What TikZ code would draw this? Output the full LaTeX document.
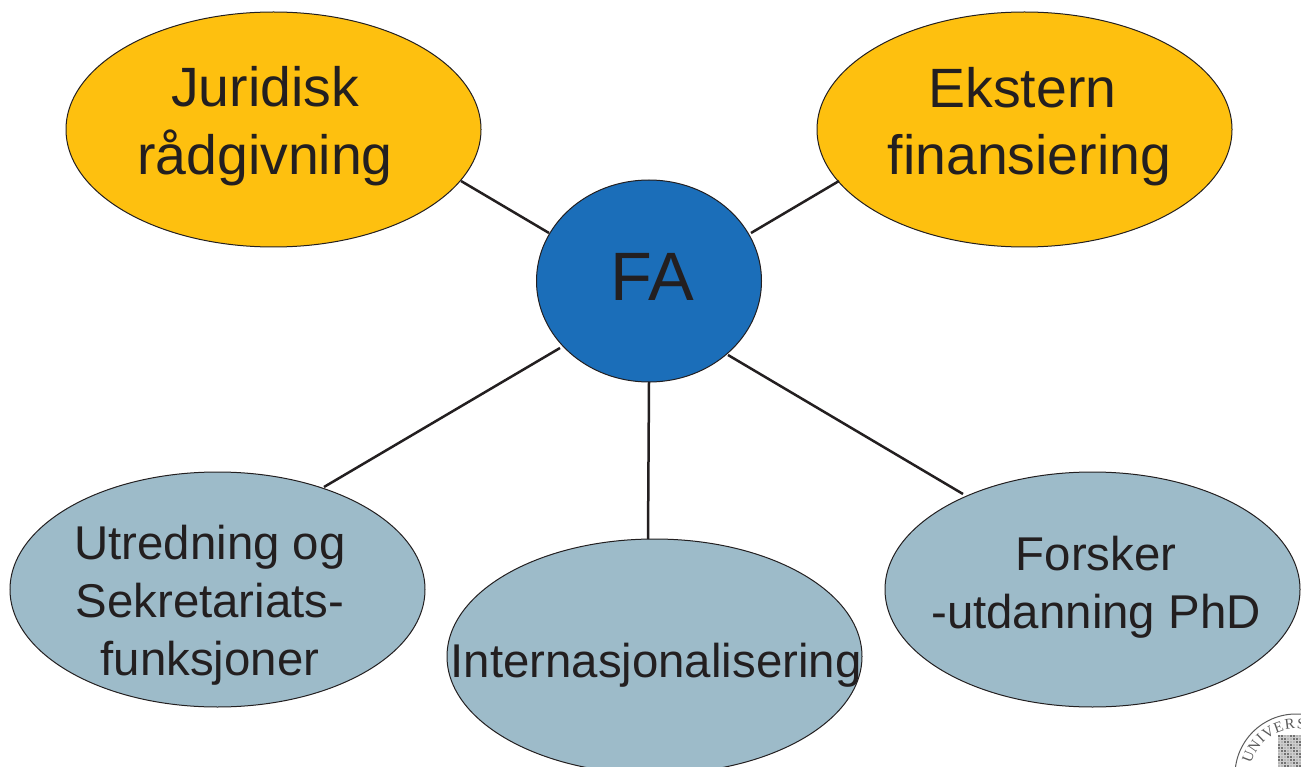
\documentclass[tikz,border=0pt]{standalone}
\usepackage{fontspec}
\setmainfont{Liberation Sans}
\newfontfamily\sealfont{Liberation Serif}
\usetikzlibrary{shapes.geometric}
\definecolor{gold}{HTML}{FEC00F}
\definecolor{fablue}{HTML}{1B6EB9}
\definecolor{steel}{HTML}{9DBBC9}
\definecolor{ink}{HTML}{231F20}
\definecolor{sealgrey}{HTML}{5A5A5A}
\tikzset{x=1pt,y=-1pt,
 oval/.style={ellipse,draw=ink,line width=1pt,inner sep=0pt},
 link/.style={draw=ink,line width=2.5pt},
 big/.style={font=\fontsize{55.4}{68}\selectfont,text=ink,align=center},
 small/.style={font=\fontsize{47.4}{58}\selectfont,text=ink,align=center},
 sealtext/.style={font=\sealfont\fontsize{15}{15}\selectfont,text=sealgrey,inner sep=0pt}}
\begin{document}
\begin{tikzpicture}
\useasboundingbox (0,0) rectangle (1301,767);
\coordinate (l1a) at (461,181); \coordinate (l1b) at (549,233);
\coordinate (l2a) at (839,181); \coordinate (l2b) at (751,233);
\coordinate (l3a) at (324,487); \coordinate (l3b) at (560,348);
\coordinate (l4a) at (648,539); \coordinate (l4b) at (649,382);
\coordinate (l5a) at (963,494); \coordinate (l5b) at (728,355);
\begin{scope}
\clip (0,0) rectangle (1301,767);
\node[oval,fill=gold,minimum width=415pt,minimum height=235pt] (jur) at (273.5,129.5) {};
\node[oval,fill=gold,minimum width=415pt,minimum height=235pt] (eks) at (1024.5,129.5) {};
\node[oval,fill=fablue,minimum width=225pt,minimum height=202pt] (fa) at (649,281) {};
\node[oval,fill=steel,minimum width=415pt,minimum height=235pt] (utr) at (217.5,589.5) {};
\node[oval,fill=steel,minimum width=415pt,minimum height=235pt] (int) at (654.5,656.5) {};
\node[oval,fill=steel,minimum width=415pt,minimum height=235pt] (for) at (1092.5,589.5) {};
% seal
\draw[sealgrey,line width=1pt] (1296,775) circle[radius=61];
\fill[sealgrey!30] (1278,735) rectangle (1301,767);
\foreach \r in {0,...,10}{
  \foreach \c in {0,...,7}{
    \pgfmathsetmacro{\sh}{mod(\r*3+\c*5,4)<2 ? 85 : 45}
    \fill[sealgrey!\sh] ({1278+\c*3},{735+\r*3}) rectangle +(2.2,2.2);
  }
}
\foreach \a/\l/\n in {159/U/a,145/N/b,134/I/c,123/V/d,110/E/e,97/R/f,84/S/g}
  \node[sealtext,rotate=\a-90] (seal\n) at ({1296+51*cos(\a)},{775-51*sin(\a)}) {\l};
\end{scope}
\node[big] (t1) at (265,126) {Juridisk\\rådgivning};
\node[big] (t2a) at (1022.5,88) {Ekstern};
\node[big] (t2b) at (1029.5,160) {finansiering};
\node[font=\fontsize{68.5}{80}\selectfont,text=ink] (t3) at (652,277) {FA};
\node[small] (t4) at (210,605) {Utredning og\\Sekretariats-\\funksjoner};
\node[small] (t5) at (656,665) {Internasjonalisering};
\node[small] (t6) at (1096,587) {Forsker\\-utdanning PhD};
\draw[link] (l1a)--(l1b);
\draw[link] (l2a)--(l2b);
\draw[link] (l3a)--(l3b);
\draw[link] (l4a)--(l4b);
\draw[link] (l5a)--(l5b);
\end{tikzpicture}
\end{document}
